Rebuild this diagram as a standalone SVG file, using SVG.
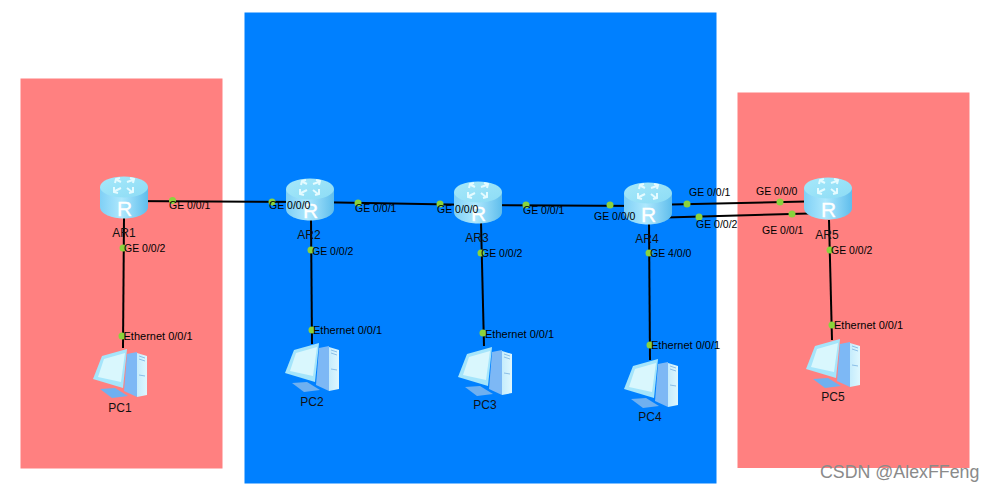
<svg xmlns="http://www.w3.org/2000/svg" width="995" height="492" viewBox="0 0 995 492">
<style>
text{font-family:"Liberation Sans",Arial,sans-serif;font-size:10.500px;fill:#000}
text.e{font-size:11px}
.n{font-size:12px;fill:#111}
.c{stroke:#000;stroke-width:2;fill:none}
.d{fill:#8ad33c}
text.w{font-size:17.800px;fill:#8a8a8a}
</style>
<defs>
<linearGradient id="rs" x1="0" x2="1" y1="0" y2="0"><stop offset="0" stop-color="#7fd0f6"/><stop offset=".45" stop-color="#aee8fd"/><stop offset="1" stop-color="#5fbdec"/></linearGradient>
<linearGradient id="rt" x1="0" x2="1" y1="0" y2="1"><stop offset="0" stop-color="#a6e8fa"/><stop offset="1" stop-color="#8ddcf5"/></linearGradient>
<linearGradient id="tw" x1="0" x2="1" y1="0" y2="0"><stop offset="0" stop-color="#c5ecfc"/><stop offset="1" stop-color="#def7fe"/></linearGradient>
<g id="router">
<path d="M-24 11V31C-24 38-12 42.500 0 42.500S24 38 24 31V11Z" fill="url(#rs)"/>
<ellipse cx="0" cy="11" rx="24" ry="10.500" fill="url(#rt)"/>
<g fill="none" stroke="#e4fbff" stroke-width="2">
<path d="M-3 6L-7 4M-9 7L-8 3L-4 2"/>
<path d="M3 6L9 4M6 2L10 3L9 7"/>
<path d="M-3 12L-9 15M-10 11L-10 16L-6 17"/>
<path d="M3 12L8 16M9 11L9 16L5 17"/>
</g>
<text x="0.500" y="40" text-anchor="middle" style="font-size:21px;fill:#fff;stroke:#fff;stroke-width:.3">R</text>
</g>
<g id="pc">
<path d="M55 28L65 31V70L55 72Z" fill="url(#tw)"/>
<path d="M45 29L55 27V72L42 66Z" fill="#7db8f5"/>
<path d="M18 64L33 63L46 71L30 73Z" fill="#6fb0f0"/>
<path d="M20 31L45 24L41 63L11 54Z" fill="#a5e5fb"/>
<path d="M22 34L43 28L39 57L16 52Z" fill="#d9f7fd"/>
<path d="M57 31L63 33M57 34L63 36M57 50L63 51" stroke="#8bbfe8" stroke-width="1" fill="none"/>
</g>
</defs>
<rect x="20.500" y="78.500" width="202" height="390" fill="#ff8080"/>
<rect x="244.500" y="12.500" width="472" height="471" fill="#0080ff"/>
<rect x="737.500" y="92.500" width="232" height="375.500" fill="#ff8080"/>
<g id="connectors">
<path class="c" d="M124 201L310 202"/>
<path class="c" d="M310 202L478 205"/>
<path class="c" d="M478 205L648 206"/>
<path class="c" d="M648 205L828 201"/>
<path class="c" d="M648 218L828 213"/>
<path class="c" d="M124 218L123 348"/>
<path class="c" d="M311 220L312 344"/>
<path class="c" d="M481 222L484 346"/>
<path class="c" d="M649 222L650 360"/>
<path class="c" d="M829 220L832 340"/>
</g>
<g id="ports">
<circle class="d" cx="172.500" cy="200.500" r="3.500"/><circle class="d" cx="272" cy="202" r="3.500"/>
<circle class="d" cx="358" cy="203" r="3.500"/><circle class="d" cx="440" cy="204" r="3.500"/>
<circle class="d" cx="526" cy="205" r="3.500"/><circle class="d" cx="610" cy="205" r="3.500"/>
<circle class="d" cx="687" cy="204" r="3.500"/><circle class="d" cx="780" cy="202" r="3.500"/>
<circle class="d" cx="699" cy="217" r="3.500"/><circle class="d" cx="792" cy="214" r="3.500"/>
<circle class="d" cx="123" cy="248" r="3.500"/><circle class="d" cx="122" cy="336" r="3.500"/>
<circle class="d" cx="311" cy="250" r="3.500"/><circle class="d" cx="312" cy="330" r="3.500"/>
<circle class="d" cx="481" cy="253" r="3.500"/><circle class="d" cx="483" cy="333" r="3.500"/>
<circle class="d" cx="649" cy="253" r="3.500"/><circle class="d" cx="650" cy="345" r="3.500"/>
<circle class="d" cx="830" cy="250" r="3.500"/><circle class="d" cx="832" cy="325" r="3.500"/>
</g>
<g id="AR1"><use href="#router" x="124" y="176"/><text class="n" x="124" y="237" text-anchor="middle">AR1</text></g>
<g id="AR2"><use href="#router" x="310" y="178"/><text class="n" x="309" y="239" text-anchor="middle">AR2</text></g>
<g id="AR3"><use href="#router" x="478" y="181"/><text class="n" x="477" y="242" text-anchor="middle">AR3</text></g>
<g id="AR4"><use href="#router" x="648" y="182"/><text class="n" x="647" y="243" text-anchor="middle">AR4</text></g>
<g id="AR5"><use href="#router" x="828" y="177"/><text class="n" x="827" y="239" text-anchor="middle">AR5</text></g>
<g id="PC1"><use href="#pc" x="82" y="325"/><text class="n" x="120" y="412" text-anchor="middle">PC1</text></g>
<g id="PC2"><use href="#pc" x="274" y="319"/><text class="n" x="312" y="406" text-anchor="middle">PC2</text></g>
<g id="PC3"><use href="#pc" x="447" y="323"/><text class="n" x="485" y="409" text-anchor="middle">PC3</text></g>
<g id="PC4"><use href="#pc" x="613" y="335"/><text class="n" x="650" y="421" text-anchor="middle">PC4</text></g>
<g id="PC5"><use href="#pc" x="795" y="315"/><text class="n" x="833" y="401" text-anchor="middle">PC5</text></g>
<g id="labels">
<text x="169" y="209">GE 0/0/1</text><text x="269" y="209">GE 0/0/0</text>
<text x="355" y="212">GE 0/0/1</text><text x="437" y="213">GE 0/0/0</text>
<text x="523" y="214">GE 0/0/1</text><text x="594" y="220">GE 0/0/0</text>
<text x="689" y="196">GE 0/0/1</text><text x="756" y="195">GE 0/0/0</text>
<text x="696" y="228">GE 0/0/2</text><text x="762" y="234">GE 0/0/1</text>
<text x="124" y="252">GE 0/0/2</text><text x="312" y="255">GE 0/0/2</text>
<text x="481" y="257">GE 0/0/2</text><text x="650" y="257">GE 4/0/0</text>
<text x="831" y="254">GE 0/0/2</text>
<text class="e" x="123.500" y="340">Ethernet 0/0/1</text><text class="e" x="313" y="334">Ethernet 0/0/1</text>
<text class="e" x="485" y="338">Ethernet 0/0/1</text><text class="e" x="651" y="349">Ethernet 0/0/1</text>
<text class="e" x="834" y="329">Ethernet 0/0/1</text>
</g>
<text class="w" x="820" y="478">CSDN @AlexFFeng</text>
</svg>
